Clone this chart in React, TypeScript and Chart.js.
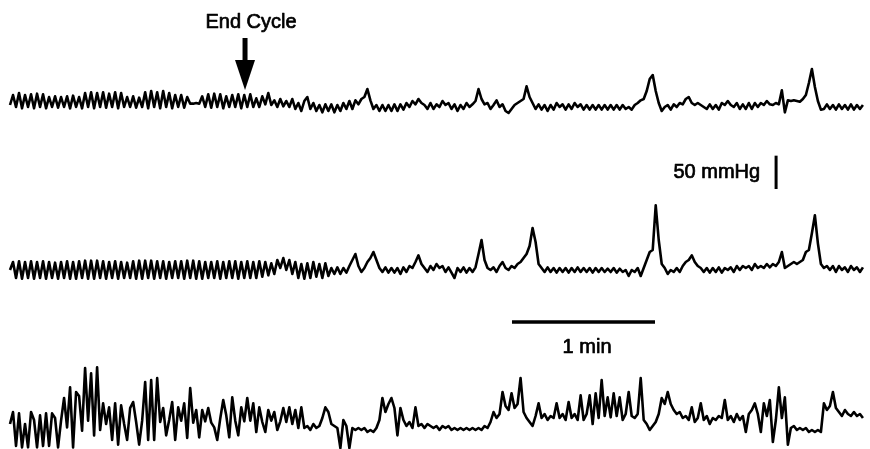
import React, { useEffect, useRef } from "react";
import { Chart, registerables } from "chart.js";

Chart.register(...registerables);

// Time between samples (s) and axis span (s)
const SEC_PER_SAMPLE = 1.26;
const X_MIN = -4.2;
const X_MAX = 360.8;
// Vertical span in mmHg (all three traces stacked)
const Y_MIN = 0;
const Y_MAX = 673.5;

// Trace 1 (top), mmHg relative to its baseline
const TRACE1_A = [
  3, 18, 0, 21, -2, 18, 0, 19, -2, 20,
  0, 19, -2, 15, 0, 16, -1, 15, 0, 16,
  -2, 17, 0, 15, -2, 21, 0, 22, -2, 21,
  0, 22, -1, 20, 0, 22, -2, 21, 0, 15,
  0, 16, -1, 14, 0, 22, -2, 24, 0, 22,
  -2, 24, 0, 21, -2, 18, 0, 18, -1, 15,
  5, 5, 6, 5, 16, 0, 19, -1, 20, 0,
  19, -2, 16, 0, 18, 0, 19, -2, 18, 0,
  19, 0, 13, 0, 16, 4, 21, 3, 10, 0,
  12, 1, 9, 0, 12, -3,
];
const TRACE1_B = [
  6, -6, 9, 15, -3, 6, -6, 3, -8, 4,
  -6, 4, -8, 3, -6, 6, -3, 9, -3, 10,
  4, 12, 15, 27, 10, -3, 3, -6, 3, -6,
  3, -6, 4, -6, 4, -4, 6, 0, 9, 4,
  12, 6, 3, -3, 6, -3, 4, 0, 9, 3,
  6, -3, 4, -6, 3, -3, 6, 0, 4, 9,
  27, 12, 4, 6, -3, 3, 10, 0, 4, -6,
  -9, -3, 3, 6, 9, 12, 31, 15, 6, -3,
  4, -4, 3, -6, 3, -4, 6, 0, 4, -4,
  4, -3, 6, 0,
];
const TRACE1_C = [
  4, -4, 3, -4, 3, -4, 3, -4, 3, -4,
  3, -4, 3, -4, 3, -3, 0, -4, 3, 6,
  10, 12, 24, 42, 48, 24, 6, -6, 0, 3,
  -4, 4, 0, 6, 4, 12, 15, 6, 3, 6,
  3, 0, -3, 4, -3, 3, -4, 6, 3, 9,
  3, 0, 6, -3, 4, -3, 6, -3, 6, 0,
  6, 3, 9, 4, 3, 6, 4, 25, -8, 10,
  9, 10, 9, 8, 12, 18, 36, 57, 30, 9,
  -4, -3, 4, -3, 3, -4, 4, -3, 3, -4,
  4, -4, 3, -3, 3,
];

// Trace 2 (middle)
const TRACE2_A = [
  0, 12, -12, 13, -13, 12, -12, 13, -13, 12,
  -12, 13, -13, 12, -12, 11, -13, 12, -12, 13,
  -13, 12, -13, 13, -12, 14, -13, 14, -13, 14,
  -12, 13, -13, 12, -12, 13, -13, 12, -12, 11,
  -12, 13, -13, 14, -13, 14, -12, 14, -13, 13,
  -12, 13, -13, 12, -12, 13, -12, 13, -13, 14,
  -12, 14, -13, 13, -13, 12, -12, 12, -12, 13,
  -13, 12, -12, 13, -12, 13, -13, 12, -12, 13,
  -12, 12, -12, 13, -10, 12, -8, 10, -6, 15,
  3, 18, 0, 15, -6, 12, -12, 9, -13, 10,
  -12, 12, -10, 9, -12, 10, -9,
];
const TRACE2_B = [
  3, -6, 4, -6, 3, -4, 6, 15, 24, 6,
  -3, 3, 12, 18, 27, 15, 3, -3, 4, -4,
  3, -4, 3, -6, 4, -3, 6, 3, 12, 22,
  9, 3, -3, 6, 0, 9, 3, 6, -3, 4,
  -4, -12, 3, -3, 4, -4, 3, -3, 4, 24,
  45, 15, 3, 0, 4, -3, 6, 12, 3, 0,
  6, 3, 9, 12, 18, 24, 36, 63, 42, 9,
  3, -3, 4, -3, 3, -4, 3, -3, 3, -4,
  3, -3, 4,
];
const TRACE2_C = [
  -3, 3, -3, 3, -4, 3, -3, 3, -3, 2,
  -3, 3, -4, 2, -3, 0, -9, 0, -3, 3,
  -9, 3, 15, 27, 30, 97, 45, 9, 3, -6,
  0, -3, 3, -3, 6, 12, 15, 22, 12, 6,
  3, -3, 3, -4, 3, -3, 4, -4, 3, 0,
  4, -3, 6, 0, 6, 3, 6, 0, 9, 3,
  6, 3, 9, 4, 9, 6, 12, 27, 3, 6,
  9, 12, 9, 12, 15, 27, 30, 55, 82, 40,
  9, 3, 6, 0, 6, -3, 6, 0, 4, -3,
  6, 0, 4, -3, 4,
];

// Trace 3 (bottom)
const TRACE3_A = [
  0, 18, -33, 16, -35, 0, -35, 18, 6, -35,
  13, -33, 16, -33, 16, 9, -35, 5, 39, -5,
  55, -35, 48, 42, -10, 84, 5, 76, -17, 85,
  -9, 31, 0, 25, -24, 31, -31, 28, 0, -24,
  24, 33, 3, -31, 5, 63, -24, 66, -24, 69,
  3, 24, -17, 6, 33, -24, 25, 5, 31, -21,
  54, 2, 21, -20, 21, 4, 24, 2, -5, -24,
  8, 36, 13, -20, 40, 5, -17, 25, 4, 39,
  5, 31, -12, 25, 3, -12, 21, 5, 18, -9,
  4, 24, 3, 25, 0, 21,
];
const TRACE3_B = [
  -6, 25, -6, -3, -9, 0, -6, -3, 9, 25,
  18, 0, -3, -6, -36, 6, -3, -36, -6, -9,
  -6, -9, -6, -12, -9, -12, -6, 6, 39, 18,
  30, 39, 24, -17, 24, 6, -3, 3, -6, 25,
  -3, 0, -6, 0, -3, -6, -3, -9, -3, -6,
  -3, -9, -6, -9, -6, -9, -6, -9, -6, -9,
  -6, -9, -3, -6, 3, 18, 9, 15, 48, 27,
  21, 46, 24, 30, 69, 18, 9, 3, -3, 12,
  31, 9, 15, 6, 12, 9, 31, 9, 15, 6,
  33, 9, 15, 6,
];
const TRACE3_C = [
  43, 6, 15, 43, 0, 46, 9, 66, 12, 40,
  10, 46, 12, 40, 6, 15, 48, 12, 9, 15,
  69, 6, 0, -9, -3, 3, 15, 39, 30, 48,
  30, 21, 15, 18, 9, 12, 6, 25, 3, 9,
  31, 6, 12, 0, 9, 6, 12, 9, 36, 6,
  12, 3, 15, 6, 12, -12, 15, 21, 31, 15,
  -12, 31, 12, 36, -27, 6, 55, 9, 40, -31,
  -6, -3, -9, -6, -9, -6, -12, -9, -12, -9,
  -12, 31, 21, 27, 48, 24, 18, 12, 21, 15,
  12, 18, 12, 15, 9,
];

// Baseline of each trace on the stacked pressure axis (mmHg)
const TRACE_BASELINES = [513, 268.5, 37.5];

// Scale bars
const TIME_BAR_START = 210.6; // s
const TIME_BAR_LENGTH = 60; // s (1 min)
const TIME_BAR_LEVEL = 190.5; // mmHg on stacked axis
const PRESSURE_BAR_TIME = 321.4; // s
const PRESSURE_BAR_BOTTOM = 390; // mmHg on stacked axis
const PRESSURE_BAR_LENGTH = 50; // mmHg

// Annotation anchors (data coordinates)
const END_CYCLE_TIME = 98.6;
const END_CYCLE_LABEL_TIME = 101.1;
const END_CYCLE_LABEL_Y = 631.5;
const ARROW_TOP_Y = 616.5;
const ARROW_NECK_Y = 583.5;
const ARROW_TIP_Y = 538.5;
const PRESSURE_LABEL_TIME = 314.7;
const PRESSURE_LABEL_Y = 406.5;
const TIME_LABEL_TIME = 242.1;
const TIME_LABEL_Y = 144;

const FONT = '20px "Liberation Sans", Arial, sans-serif';

function toPoints(values: number[], baseline: number) {
  return values.map((v, i) => ({ x: i * SEC_PER_SAMPLE, y: baseline + v }));
}

function drawLabel(ctx: CanvasRenderingContext2D, text: string, x: number, y: number) {
  ctx.fillText(text, x, y);
  ctx.lineWidth = 0.7;
  ctx.strokeText(text, x, y);
}

const annotationPlugin = {
  id: "figureAnnotations",
  afterDatasetsDraw(chart: any) {
    const { ctx, scales } = chart;
    const xs = scales.x;
    const ys = scales.y;
    ctx.save();
    ctx.fillStyle = "#000";
    ctx.strokeStyle = "#000";
    ctx.font = FONT;
    ctx.lineJoin = "round";

    // End Cycle label
    ctx.textAlign = "center";
    ctx.textBaseline = "alphabetic";
    drawLabel(ctx, "End Cycle", xs.getPixelForValue(END_CYCLE_LABEL_TIME), ys.getPixelForValue(END_CYCLE_LABEL_Y));

    // Arrow
    const ax = xs.getPixelForValue(END_CYCLE_TIME);
    ctx.lineWidth = 5;
    ctx.lineCap = "butt";
    ctx.beginPath();
    ctx.moveTo(ax, ys.getPixelForValue(ARROW_TOP_Y));
    ctx.lineTo(ax, ys.getPixelForValue(ARROW_NECK_Y) + 2);
    ctx.stroke();
    ctx.beginPath();
    ctx.moveTo(ax - 10, ys.getPixelForValue(ARROW_NECK_Y));
    ctx.lineTo(ax + 10, ys.getPixelForValue(ARROW_NECK_Y));
    ctx.lineTo(ax, ys.getPixelForValue(ARROW_TIP_Y));
    ctx.closePath();
    ctx.fill();

    // 50 mmHg label
    ctx.textAlign = "right";
    drawLabel(ctx, "50 mmHg", xs.getPixelForValue(PRESSURE_LABEL_TIME), ys.getPixelForValue(PRESSURE_LABEL_Y));

    // 1 min label
    ctx.textAlign = "center";
    drawLabel(ctx, "1 min", xs.getPixelForValue(TIME_LABEL_TIME), ys.getPixelForValue(TIME_LABEL_Y));
    ctx.restore();
  },
};

export default function App() {
  const canvasRef = useRef<HTMLCanvasElement | null>(null);

  useEffect(() => {
    if (!canvasRef.current) return;
    const traceStyle = {
      borderColor: "#000",
      borderWidth: 2.6,
      borderJoinStyle: "round" as const,
      pointRadius: 0,
      tension: 0,
      fill: false,
    };
    const chart = new Chart(canvasRef.current, {
      type: "line",
      data: {
        datasets: [
          { label: "Trace 1", data: toPoints([...TRACE1_A, ...TRACE1_B, ...TRACE1_C], TRACE_BASELINES[0]), ...traceStyle },
          { label: "Trace 2", data: toPoints([...TRACE2_A, ...TRACE2_B, ...TRACE2_C], TRACE_BASELINES[1]), ...traceStyle },
          { label: "Trace 3", data: toPoints([...TRACE3_A, ...TRACE3_B, ...TRACE3_C], TRACE_BASELINES[2]), ...traceStyle },
          {
            label: "1 min",
            data: [
              { x: TIME_BAR_START, y: TIME_BAR_LEVEL },
              { x: TIME_BAR_START + TIME_BAR_LENGTH, y: TIME_BAR_LEVEL },
            ],
            borderColor: "#000",
            borderWidth: 3.5,
            pointRadius: 0,
          },
          {
            label: "50 mmHg",
            data: [
              { x: PRESSURE_BAR_TIME, y: PRESSURE_BAR_BOTTOM },
              { x: PRESSURE_BAR_TIME, y: PRESSURE_BAR_BOTTOM + PRESSURE_BAR_LENGTH },
            ],
            borderColor: "#000",
            borderWidth: 3,
            pointRadius: 0,
          },
        ],
      },
      options: {
        responsive: false,
        maintainAspectRatio: false,
        animation: false,
        devicePixelRatio: 1,
        events: [],
        layout: { padding: 0 },
        plugins: { legend: { display: false }, tooltip: { enabled: false } },
        scales: {
          x: { type: "linear", min: X_MIN, max: X_MAX, display: false },
          y: { type: "linear", min: Y_MIN, max: Y_MAX, display: false },
        },
      },
      plugins: [annotationPlugin],
    });
    return () => chart.destroy();
  }, []);

  return (
    <div style={{ position: "fixed", left: 0, top: 0, width: 870, height: 449, background: "#fff" }}>
      <canvas ref={canvasRef} width={870} height={449} style={{ display: "block" }} />
    </div>
  );
}
